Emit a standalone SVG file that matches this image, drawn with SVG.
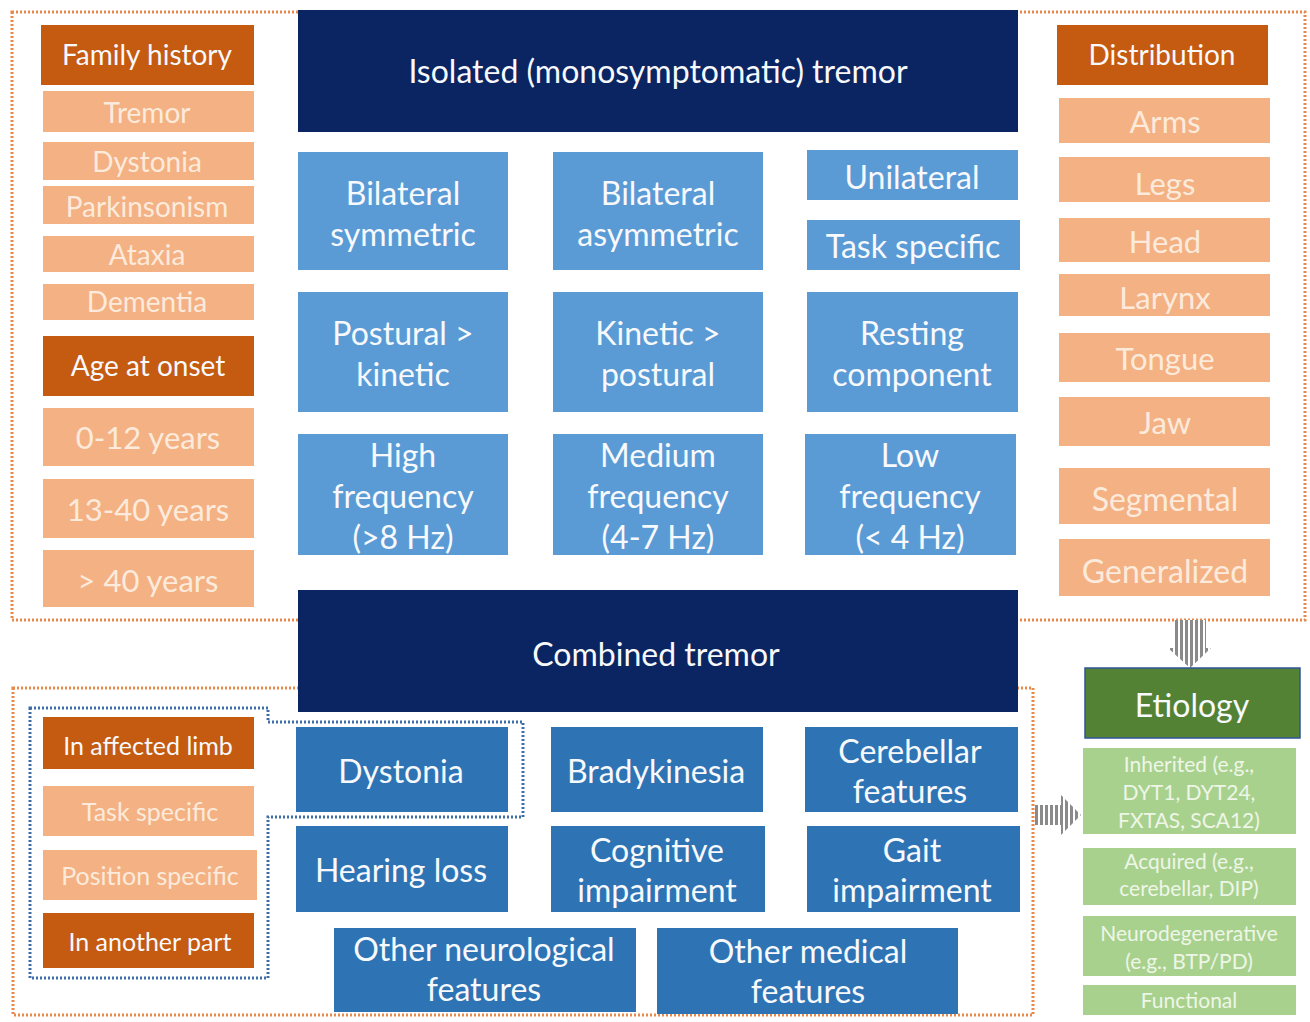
<svg xmlns="http://www.w3.org/2000/svg" width="1310" height="1022" viewBox="0 0 1310 1022">
<defs>
<style>
text{font-family:Lato,"Open Sans","Liberation Sans",sans-serif;text-anchor:middle;fill:#f7f9fc}
.navy{fill:#0b2562}
.lb{fill:#5b9bd5}
.db{fill:#2e74b5}
.do{fill:#c55a11}
.lo{fill:#f4b183}
.dg{fill:#548235;stroke:#2f5597;stroke-width:1.5}
.lg{fill:#a9d18e}
.lo~text{fill:#fcebdc}
.lg~text{fill:#eef6e8}
.t32{font-size:32px}
.t31{font-size:31px}
.t28{font-size:28px}
.t25{font-size:25px}
.t21{font-size:21px}
.odot{fill:none;stroke:#e8884a;stroke-width:3;stroke-dasharray:2 2}
.bdot{fill:none;stroke:#3e6ea8;stroke-width:3;stroke-dasharray:2 2}
</style>
<pattern id="stripes" width="5" height="5" patternUnits="userSpaceOnUse">
<rect width="5" height="5" fill="#ffffff"/>
<rect width="3" height="5" fill="#8a8a8a"/>
</pattern>
</defs>

<g id="frames">
<rect class="odot" x="12" y="12" width="1293" height="608"/>
<rect class="odot" x="13" y="688" width="1020" height="327"/>
<path class="bdot" d="M30,708 H268 V722 H523 V817 H268 V978 H30 Z"/>
</g>

<g id="connectors">
<path fill="url(#stripes)" d="M1174,620 H1206 V648 H1211 L1190,668 L1168,648 H1174 Z"/>
<path fill="url(#stripes)" d="M1035,805 H1061 V795 L1081,815 L1061,835 V825 H1035 Z"/>
</g>

<g id="isolated"><rect class="navy" x="298" y="10" width="720" height="122"/><text class="t32" x="658" y="83">Isolated (monosymptomatic) tremor</text></g>

<g id="bil-sym"><rect class="lb" x="298" y="152" width="210" height="118"/><text class="t32"><tspan x="403" y="205">Bilateral</tspan><tspan x="403" y="246">symmetric</tspan></text></g>
<g id="bil-asym"><rect class="lb" x="553" y="152" width="210" height="118"/><text class="t32"><tspan x="658" y="205">Bilateral</tspan><tspan x="658" y="246">asymmetric</tspan></text></g>
<g id="unilateral"><rect class="lb" x="807" y="150" width="211" height="50"/><text class="t32" x="912" y="189">Unilateral</text></g>
<g id="task-specific"><rect class="lb" x="807" y="220" width="213" height="50"/><text class="t32" x="913" y="258">Task specific</text></g>

<g id="postural"><rect class="lb" x="298" y="292" width="210" height="120"/><text class="t32"><tspan x="403" y="345">Postural &gt;</tspan><tspan x="403" y="386">kinetic</tspan></text></g>
<g id="kinetic"><rect class="lb" x="553" y="292" width="210" height="120"/><text class="t32"><tspan x="658" y="345">Kinetic &gt;</tspan><tspan x="658" y="386">postural</tspan></text></g>
<g id="resting"><rect class="lb" x="807" y="292" width="211" height="120"/><text class="t32"><tspan x="912" y="345">Resting</tspan><tspan x="912" y="386">component</tspan></text></g>

<g id="high-freq"><rect class="lb" x="298" y="434" width="210" height="121"/><text class="t32"><tspan x="403" y="467">High</tspan><tspan x="403" y="508">frequency</tspan><tspan x="403" y="549">(&gt;8 Hz)</tspan></text></g>
<g id="med-freq"><rect class="lb" x="553" y="434" width="210" height="121"/><text class="t32"><tspan x="658" y="467">Medium</tspan><tspan x="658" y="508">frequency</tspan><tspan x="658" y="549">(4-7 Hz)</tspan></text></g>
<g id="low-freq"><rect class="lb" x="805" y="434" width="211" height="121"/><text class="t32"><tspan x="910" y="467">Low</tspan><tspan x="910" y="508">frequency</tspan><tspan x="910" y="549">(&lt; 4 Hz)</tspan></text></g>

<g id="combined"><rect class="navy" x="298" y="590" width="720" height="122"/><text class="t32" x="656" y="666">Combined tremor</text></g>

<g id="dystonia-c"><rect class="db" x="296" y="727" width="212" height="85"/><text class="t32" x="401" y="783">Dystonia</text></g>
<g id="bradykinesia"><rect class="db" x="551" y="727" width="212" height="85"/><text class="t32" x="656" y="783">Bradykinesia</text></g>
<g id="cerebellar"><rect class="db" x="805" y="727" width="213" height="85"/><text class="t32"><tspan x="910" y="763">Cerebellar</tspan><tspan x="910" y="803">features</tspan></text></g>
<g id="hearing"><rect class="db" x="296" y="826" width="212" height="86"/><text class="t32" x="401" y="882">Hearing loss</text></g>
<g id="cognitive"><rect class="db" x="551" y="826" width="214" height="86"/><text class="t32"><tspan x="657" y="862">Cognitive</tspan><tspan x="657" y="902">impairment</tspan></text></g>
<g id="gait"><rect class="db" x="807" y="826" width="213" height="86"/><text class="t32"><tspan x="912" y="862">Gait</tspan><tspan x="912" y="902">impairment</tspan></text></g>
<g id="other-neuro"><rect class="db" x="334" y="928" width="302" height="84"/><text class="t32"><tspan x="484" y="961">Other neurological</tspan><tspan x="484" y="1001">features</tspan></text></g>
<g id="other-medical"><rect class="db" x="657" y="928" width="301" height="86"/><text class="t32"><tspan x="808" y="963">Other medical</tspan><tspan x="808" y="1003">features</tspan></text></g>

<g id="family-history"><rect class="do" x="41" y="25" width="213" height="60"/><text class="t28" x="147" y="65">Family history</text></g>
<g id="fh-tremor"><rect class="lo" x="43" y="91" width="211" height="41"/><text class="t28" x="147" y="123">Tremor</text></g>
<g id="fh-dystonia"><rect class="lo" x="43" y="142" width="211" height="38"/><text class="t28" x="147" y="172">Dystonia</text></g>
<g id="fh-parkinsonism"><rect class="lo" x="43" y="186" width="211" height="38"/><text class="t28" x="147" y="217">Parkinsonism</text></g>
<g id="fh-ataxia"><rect class="lo" x="43" y="236" width="211" height="36"/><text class="t28" x="147" y="265">Ataxia</text></g>
<g id="fh-dementia"><rect class="lo" x="43" y="284" width="211" height="36"/><text class="t28" x="147" y="312">Dementia</text></g>
<g id="age-onset"><rect class="do" x="43" y="336" width="211" height="60"/><text class="t28" x="148" y="376">Age at onset</text></g>
<g id="age-0-12"><rect class="lo" x="43" y="408" width="211" height="58"/><text class="t31" x="148" y="449">0-12 years</text></g>
<g id="age-13-40"><rect class="lo" x="43" y="479" width="211" height="59"/><text class="t31" x="148" y="521">13-40 years</text></g>
<g id="age-40"><rect class="lo" x="43" y="550" width="211" height="57"/><text class="t31" x="148" y="592">&gt; 40 years</text></g>

<g id="distribution"><rect class="do" x="1057" y="25" width="211" height="60"/><text class="t28" x="1162" y="65">Distribution</text></g>
<g id="arms"><rect class="lo" x="1059" y="98" width="211" height="45"/><text class="t31" x="1165" y="133">Arms</text></g>
<g id="legs"><rect class="lo" x="1059" y="157" width="211" height="45"/><text class="t31" x="1165" y="195">Legs</text></g>
<g id="head"><rect class="lo" x="1059" y="218" width="211" height="44"/><text class="t31" x="1165" y="253">Head</text></g>
<g id="larynx"><rect class="lo" x="1059" y="274" width="211" height="42"/><text class="t31" x="1165" y="309">Larynx</text></g>
<g id="tongue"><rect class="lo" x="1059" y="333" width="211" height="49"/><text class="t31" x="1165" y="370">Tongue</text></g>
<g id="jaw"><rect class="lo" x="1059" y="397" width="211" height="49"/><text class="t31" x="1165" y="434">Jaw</text></g>
<g id="segmental"><rect class="lo" x="1059" y="468" width="211" height="56"/><text class="t32" x="1165" y="511">Segmental</text></g>
<g id="generalized"><rect class="lo" x="1059" y="539" width="211" height="57"/><text class="t32" x="1165" y="583">Generalized</text></g>

<g id="affected-limb"><rect class="do" x="43" y="717" width="211" height="52"/><text class="t25" x="148" y="755">In affected limb</text></g>
<g id="dys-task"><rect class="lo" x="43" y="786" width="211" height="50"/><text class="t25" x="150" y="821">Task specific</text></g>
<g id="dys-position"><rect class="lo" x="43" y="850" width="214" height="50"/><text class="t25" x="150" y="885">Position specific</text></g>
<g id="another-part"><rect class="do" x="43" y="913" width="211" height="55"/><text class="t25" x="150" y="951">In another part</text></g>

<g id="etiology"><rect class="dg" x="1085" y="668" width="215" height="70"/><text class="t32" x="1192" y="717">Etiology</text></g>
<g id="inherited"><rect class="lg" x="1083" y="748" width="213" height="86"/><text class="t21"><tspan x="1189" y="772">Inherited (e.g.,</tspan><tspan x="1189" y="800">DYT1, DYT24,</tspan><tspan x="1189" y="828">FXTAS, SCA12)</tspan></text></g>
<g id="acquired"><rect class="lg" x="1083" y="848" width="213" height="57"/><text class="t21"><tspan x="1189" y="869">Acquired (e.g.,</tspan><tspan x="1189" y="896">cerebellar, DIP)</tspan></text></g>
<g id="neurodegenerative"><rect class="lg" x="1083" y="916" width="213" height="60"/><text class="t21"><tspan x="1189" y="941">Neurodegenerative</tspan><tspan x="1189" y="969">(e.g., BTP/PD)</tspan></text></g>
<g id="functional"><rect class="lg" x="1083" y="985" width="213" height="30"/><text class="t21" x="1189" y="1008">Functional</text></g>
</svg>
